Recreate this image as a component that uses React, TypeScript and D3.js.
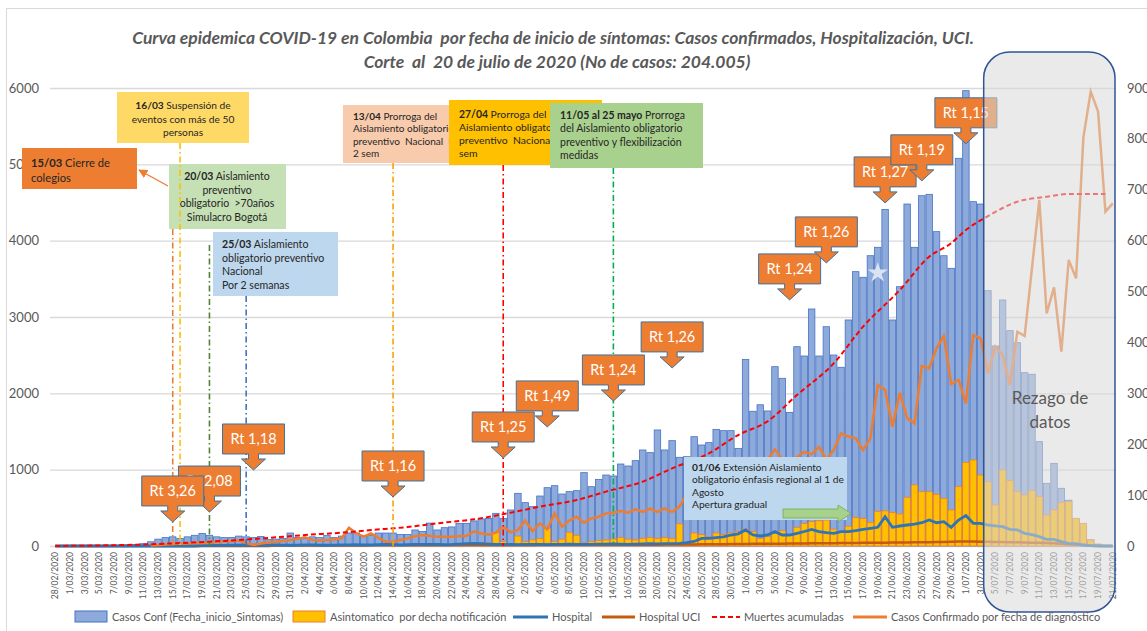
import React, { useEffect, useRef } from 'react'
import * as d3 from 'd3'

const W = 1147
const H = 631
const FONT = 'Lato, "Liberation Sans", sans-serif'

// categories: one bar per day, 28/02/2020 .. 21/07/2020
const fmtDay = d3.timeFormat('%-d/%m/%Y')
const days = d3.timeDay.range(new Date(2020, 1, 28), new Date(2020, 6, 22)).map(fmtDay)

// Casos Conf (Fecha_inicio_Sintomas) - left axis
const casos = [
  0, 0, 0, 0, 1, 2, 3, 5, 8, 10,
  15, 20, 30, 55, 90, 110, 120, 100, 120, 140,
  165, 140, 120, 110, 110, 130, 120, 110, 125, 85,
  90, 100, 170, 110, 100, 120, 110, 140, 110, 130,
  170, 170, 130, 140, 170, 170, 170, 150, 150, 210,
  190, 300, 210, 240, 250, 297, 297, 328, 354, 362,
  428, 362, 472, 690, 568, 515, 655, 764, 790, 681,
  712, 725, 961, 777, 873, 930, 917, 1074, 1048, 1118,
  1258, 1223, 1520, 1258, 1380, 1162, 1170, 1432, 1323, 1354,
  1528, 1511, 1511, 1279, 2445, 1765, 1850, 1769, 2349, 2197,
  1751, 2611, 2489, 3105, 2489, 2873, 2502, 2341, 2961, 3594,
  3520, 3803, 3913, 4410, 2961, 3397, 4480, 3913, 4589, 4607,
  4118, 3803, 3638, 5079, 5965, 4511, 4480, 3345, 2620, 3223,
  2821, 2664, 2271, 2250, 1367, 821, 1083, 756, 600, 350,
  250, 80, 20, 5, 0,
]

// Asintomatico por fecha notificación - left axis
const asintomatico = [
  0, 0, 0, 0, 0, 0, 0, 0, 0, 0,
  0, 0, 0, 0, 0, 0, 0, 0, 0, 0,
  0, 0, 0, 0, 0, 0, 0, 0, 0, 0,
  0, 0, 0, 0, 0, 0, 0, 0, 0, 0,
  0, 0, 0, 0, 0, 0, 0, 0, 0, 0,
  0, 0, 0, 0, 5, 10, 10, 30, 40, 40,
  175, 60, 30, 130, 60, 80, 100, 230, 60, 90,
  180, 140, 40, 60, 70, 80, 90, 110, 90, 80,
  100, 110, 100, 110, 100, 290, 40, 170, 150, 120,
  170, 150, 170, 190, 220, 190, 100, 122, 166, 200,
  144, 245, 297, 319, 330, 340, 220, 190, 260, 371,
  360, 310, 454, 460, 440, 420, 638, 800, 712, 712,
  677, 625, 472, 777, 1096, 1127, 930, 841, 537, 996,
  856, 712, 668, 725, 646, 406, 472, 568, 581, 363,
  297, 79, 26, 0, 0,
]

// Hospital - left axis
const hospital = [
  0, 0, 0, 0, 0, 0, 0, 0, 0, 0,
  0, 0, 0, 0, 0, 0, 0, 0, 0, 0,
  5, 5, 8, 8, 10, 10, 12, 10, 10, 12,
  15, 12, 10, 12, 15, 15, 12, 10, 12, 15,
  15, 18, 15, 15, 18, 20, 18, 15, 18, 20,
  20, 22, 20, 18, 20, 25, 30, 35, 30, 25,
  22, 20, 20, 18, 20, 22, 20, 18, 20, 22,
  25, 22, 20, 22, 25, 25, 28, 25, 22, 25,
  28, 30, 28, 30, 32, 35, 44, 60, 100, 100,
  110, 120, 144, 160, 210, 144, 131, 144, 188, 144,
  144, 166, 190, 218, 188, 175, 166, 188, 188, 200,
  218, 232, 245, 384, 245, 262, 275, 288, 305, 340,
  305, 318, 245, 340, 400, 297, 297, 275, 265, 253,
  218, 210, 166, 150, 122, 87, 87, 57, 35, 30,
  13, 5, 0, 0, 0,
]

// Hospital UCI - left axis
const uci = [
  0, 0, 0, 0, 0, 0, 0, 0, 0, 0,
  0, 0, 0, 0, 0, 0, 0, 0, 0, 0,
  0, 0, 0, 0, 0, 0, 0, 0, 0, 0,
  5, 5, 5, 6, 6, 6, 7, 7, 7, 8,
  8, 8, 8, 9, 9, 9, 10, 10, 10, 10,
  10, 11, 11, 11, 12, 12, 12, 12, 13, 13,
  13, 13, 14, 14, 14, 14, 15, 15, 15, 15,
  15, 16, 16, 16, 16, 16, 17, 17, 17, 18,
  18, 18, 18, 19, 19, 20, 20, 21, 22, 22,
  23, 24, 25, 26, 27, 28, 28, 29, 30, 31,
  32, 33, 34, 35, 35, 36, 37, 38, 39, 40,
  41, 42, 43, 44, 45, 46, 47, 48, 49, 50,
  52, 54, 56, 58, 60, 58, 56, 55, 54, 52,
  50, 48, 46, 44, 42, 40, 36, 30, 24, 18,
  12, 6, 2, 0, 0,
]

// Casos Confirmado por fecha de diagnóstico - right axis
const diagnostico = [
  null, null, null, null, null, null, null, null, null, null,
  null, null, null, 10, 20, 30, 39, 45, 50, 55,
  60, 65, 80, 90, 100, 105, 60, 20, 50, 70,
  85, 100, 118, 140, 170, 118, 110, 118, 130, 151,
  360, 250, 183, 249, 160, 85, 85, 118, 150, 190,
  216, 200, 183, 183, 183, 196, 196, 285, 250, 220,
  262, 380, 268, 314, 498, 290, 445, 327, 641, 380,
  498, 576, 458, 543, 576, 641, 655, 688, 655, 720,
  668, 734, 668, 741, 668, 774, 1016, 1050, 1150, 1200,
  1100, 1300, 1350, 1250, 1400, 1500, 1450, 1700, 1900, 1700,
  1600, 1750, 1850, 1800, 1950, 1700, 1886, 2214, 2150, 2116,
  1886, 2116, 3164, 3065, 2345, 3013, 2508, 2410, 3537, 3491,
  3884, 4127, 3183, 3262, 2803, 4146, 4081, 3393, 3917, 3753,
  3164, 4211, 4126, 5463, 6799, 4572, 5083, 3818, 5620, 5260,
  8030, 8928, 8535, 6570, 6733,
]

// Muertes acumuladas - right axis, read at these dates
const muertesDias = [
  '28/02/2020', '6/03/2020', '10/03/2020', '15/03/2020', '20/03/2020', '24/03/2020', '29/03/2020',
  '2/04/2020', '7/04/2020', '11/04/2020', '16/04/2020', '20/04/2020', '25/04/2020', '30/04/2020',
  '4/05/2020', '9/05/2020', '13/05/2020', '18/05/2020', '22/05/2020', '27/05/2020', '31/05/2020',
  '4/06/2020', '8/06/2020', '13/06/2020', '17/06/2020', '22/06/2020', '26/06/2020', '29/06/2020',
  '1/07/2020', '4/07/2020', '8/07/2020', '12/07/2020', '15/07/2020', '20/07/2020',
]
const muertes = [
  0, 13, 26, 52, 85, 118, 170,
  216, 262, 314, 373, 445, 524, 655,
  773, 904, 1068, 1264, 1526, 1820, 2181,
  2450, 2967, 3589, 4310, 5030, 5685, 5950,
  6209, 6480, 6766, 6864, 6917, 6917,
]

const leftTicks = [0, 1000, 2000, 3000, 4000, 5000, 6000]
const rightTicks = [0, 1000, 2000, 3000, 4000, 5000, 6000, 7000, 8000, 9000]

// Rt callouts
const rtLabels = ['Rt 3,26', 'Rt 2,08', 'Rt 1,18', 'Rt 1,16', 'Rt 1,25', 'Rt 1,49', 'Rt 1,24', 'Rt 1,26', 'Rt 1,24', 'Rt 1,26', 'Rt 1,27', 'Rt 1,19', 'Rt 1,15']
const rtDias = ['15/03/2020', '20/03/2020', '26/03/2020', '14/04/2020', '29/04/2020', '5/05/2020', '14/05/2020', '22/05/2020', '7/06/2020', '12/06/2020', '20/06/2020', '25/06/2020', '1/07/2020']
const rtNivel = [315, 445, 996, 642, 1153, 1560, 1900, 2333, 3224, 3709, 4495, 4784, 5269]

// event lines
const eventoDias = ['15/03/2020', '16/03/2020', '20/03/2020', '25/03/2020', '14/04/2020', '29/04/2020', '14/05/2020']

const notas = [
  { bold: '15/03', lines: ['Cierre de', 'colegios'] },
  { bold: '16/03', lines: ['Suspensión de', 'eventos con más de 50', 'personas'] },
  { bold: '20/03', lines: ['Aislamiento', 'preventivo', 'obligatorio  >70años', 'Simulacro Bogotá'] },
  { bold: '25/03', lines: ['Aislamiento', 'obligatorio preventivo', 'Nacional', 'Por 2 semanas'] },
  { bold: '13/04', lines: ['Prorroga del', 'Aislamiento obligatorio', 'preventivo  Nacional  P 2', '2 sem'] },
  { bold: '27/04', lines: ['Prorroga del', 'Aislamiento obligatorio', 'preventivo  Nacional  P 2', 'sem'] },
  { bold: '11/05 al 25 mayo', lines: ['Prorroga', 'del Aislamiento obligatorio', 'preventivo y flexibilización', 'medidas'] },
  { bold: '01/06', lines: ['Extensión Aislamiento', 'obligatorio énfasis regional al 1 de', 'Agosto', 'Apertura gradual'] },
]

const leyenda = [
  'Casos Conf (Fecha_inicio_Sintomas)',
  'Asintomatico  por decha notificación',
  'Hospital',
  'Hospital UCI',
  'Muertes acumuladas',
  'Casos Confirmado por fecha de diagnóstico',
]

export default function App() {
  const ref = useRef<SVGSVGElement>(null)

  useEffect(() => {
    const svg = d3.select(ref.current)
    svg.selectAll('*').remove()
    svg.style('font-family', FONT)

    const base = 546
    const x = d3.scaleBand<string>().domain(days).range([52, 1116]).paddingInner(0.12).paddingOuter(0)
    const cx = (d: string) => (x(d) as number) + x.bandwidth() / 2
    const yL = d3.scaleLinear().domain([0, 6000]).range([base, 88])
    const yR = d3.scaleLinear().domain([0, 9000]).range([base, 88])

    svg.append('rect').attr('width', W).attr('height', H).attr('fill', '#fff')
    svg.append('rect').attr('x', 6.5).attr('y', 8.5).attr('width', 1160).attr('height', 650)
      .attr('fill', 'none').attr('stroke', '#d9d9d9')

    // title
    const title = svg.append('g').attr('fill', '#595959').attr('font-weight', 'bold')
      .attr('font-style', 'italic').attr('font-size', 17.5).attr('text-anchor', 'middle')
    title.append('text').attr('x', 553).attr('y', 44).attr('xml:space', 'preserve')
      .text('Curva epidemica COVID-19 en Colombia  por fecha de inicio de síntomas: Casos confirmados, Hospitalización, UCI.')
    title.append('text').attr('x', 557).attr('y', 68).attr('xml:space', 'preserve')
      .text('Corte  al  20 de julio de 2020 (No de casos: 204.005)')

    // grid + axes
    svg.append('g').selectAll('line').data(leftTicks).join('line')
      .attr('x1', 50).attr('x2', 1116).attr('y1', d => yL(d) + 0.5).attr('y2', d => yL(d) + 0.5)
      .attr('stroke', '#d9d9d9').attr('stroke-width', 1.3)
    svg.append('g').attr('fill', '#595959').attr('font-size', 13).attr('text-anchor', 'end')
      .selectAll('text').data(leftTicks).join('text')
      .attr('x', 39).attr('y', d => yL(d)).attr('dy', '0.35em').text(d => d)
    svg.append('g').attr('fill', '#595959').attr('font-size', 13)
      .selectAll('text').data(rightTicks).join('text')
      .attr('x', 1127).attr('y', d => yR(d)).attr('dy', '0.35em').text(d => d)

    svg.append('g').attr('fill', '#595959').attr('font-size', 8.5).attr('text-anchor', 'end')
      .selectAll('text').data(days.filter((_, i) => i % 2 === 0)).join('text')
      .attr('transform', d => `translate(${cx(d) + 3},552) rotate(-90)`).text(d => d)

    // bars
    svg.append('g').selectAll('rect').data(days).join('rect')
      .attr('x', d => x(d) as number).attr('width', x.bandwidth())
      .attr('y', (d, i) => yL(casos[i])).attr('height', (d, i) => base - yL(casos[i]))
      .attr('fill', '#8eaadb').attr('stroke', '#4472c4').attr('stroke-width', 0.8)
    svg.append('g').selectAll('rect').data(days).join('rect')
      .attr('x', d => x(d) as number).attr('width', x.bandwidth())
      .attr('y', (d, i) => yL(asintomatico[i])).attr('height', (d, i) => base - yL(asintomatico[i]))
      .attr('fill', '#ffc000').attr('stroke', '#ed7d31').attr('stroke-width', 0.8)
      .attr('display', (d, i) => (asintomatico[i] > 0 ? null : 'none'))

    // lines
    const lineL = d3.line<number | null>().defined(v => v != null)
      .x((v, i) => cx(days[i])).y(v => yL(v as number))
    const lineR = d3.line<number | null>().defined(v => v != null)
      .x((v, i) => cx(days[i])).y(v => yR(v as number))
    svg.append('path').attr('d', lineL(uci)).attr('fill', 'none').attr('stroke', '#c55a11').attr('stroke-width', 2.5)
    svg.append('path').attr('d', lineL(hospital)).attr('fill', 'none').attr('stroke', '#2e75b6').attr('stroke-width', 2.8)
    svg.append('path').attr('d', lineR(diagnostico)).attr('fill', 'none').attr('stroke', '#ed7d31').attr('stroke-width', 2.5)
    const deathLine = d3.line<number>().curve(d3.curveMonotoneX)
      .x((v, i) => cx(muertesDias[i])).y(v => yR(v))
    svg.append('path').attr('d', deathLine(muertes)).attr('fill', 'none').attr('stroke', '#ff0000')
      .attr('stroke-width', 2).attr('stroke-dasharray', '5,3')

    // star
    svg.append('path').attr('d', d3.symbol(d3.symbolStar, 130)())
      .attr('transform', `translate(${cx('19/06/2020')},${yL(3580)})`).attr('fill', '#dae3f3')

    // annotation boxes
    const boxes = [
      { x: 22, y: 148, w: 115, h: 41, fill: '#ed7d31', fs: 11.2, lh: 15, tx: 31, ty: 167, anchor: 'start' },
      { x: 117, y: 92, w: 132, h: 51, fill: '#ffd966', fs: 10.2, lh: 13.5, tx: 183, ty: 109, anchor: 'middle' },
      { x: 169, y: 164, w: 117, h: 65, fill: '#c5e0b4', fs: 10.5, lh: 13.7, tx: 227, ty: 180, anchor: 'middle' },
      { x: 213, y: 232, w: 125, h: 64, fill: '#bdd7ee', fs: 10.6, lh: 13.7, tx: 222, ty: 248, anchor: 'start' },
      { x: 343, y: 105, w: 112, h: 58, fill: '#f8cbad', fs: 10, lh: 12.3, tx: 353, ty: 120, anchor: 'start' },
      { x: 449, y: 100, w: 153, h: 65, fill: '#ffc000', fs: 10.4, lh: 13, tx: 459, ty: 118, anchor: 'start' },
      { x: 550, y: 103, w: 153, h: 65, fill: '#a9d18e', fs: 10.5, lh: 13.3, tx: 560, ty: 119, anchor: 'start' },
      { x: 684, y: 457, w: 163, h: 63, fill: '#bdd7ee', fs: 10.2, lh: 12.4, tx: 692, ty: 471, anchor: 'start' },
    ]
    const ng = svg.append('g')
    boxes.forEach((b, k) => {
      const n = notas[k]
      ng.append('rect').attr('x', b.x).attr('y', b.y).attr('width', b.w).attr('height', b.h).attr('fill', b.fill)
      n.lines.forEach((ln, i) => {
        const t = ng.append('text').attr('x', b.tx).attr('y', b.ty + i * b.lh).attr('xml:space', 'preserve')
          .attr('font-size', b.fs).attr('fill', '#262626').attr('text-anchor', b.anchor)
        if (i === 0) {
          t.append('tspan').attr('font-weight', 'bold').text(n.bold)
          t.append('tspan').text(' ' + ln)
        } else t.text(ln)
      })
    })
    // arrow to the 15/03 box
    svg.append('defs').append('marker').attr('id', 'ah').attr('viewBox', '0 0 10 10')
      .attr('refX', 9).attr('refY', 5).attr('markerWidth', 7).attr('markerHeight', 7).attr('orient', 'auto')
      .append('path').attr('d', 'M0,0L10,5L0,10z').attr('fill', '#ed7d31')
    svg.append('line').attr('x1', 168).attr('y1', 186).attr('x2', 139).attr('y2', 170)
      .attr('stroke', '#ed7d31').attr('stroke-width', 1.3).attr('marker-end', 'url(#ah)')
    // green arrow in the 01/06 box
    svg.append('path').attr('d', 'M783,509H838V505L851,513.5L838,522V518H783Z')
      .attr('fill', '#a9d18e').attr('stroke', '#70ad47').attr('stroke-width', 0.8)

    // event lines
    const evColors = ['#ed7d31', '#ffc000', '#548235', '#4472c4', '#ffa000', '#ff0000', '#00b050']
    const evTop = [229, 143, 245, 296, 163, 165, 168]
    svg.append('g').selectAll('line').data(eventoDias).join('line')
      .attr('x1', d => cx(d)).attr('x2', d => cx(d)).attr('y1', (d, i) => evTop[i]).attr('y2', base)
      .attr('stroke', (d, i) => evColors[i]).attr('stroke-width', 1.6).attr('stroke-dasharray', '6,3,1.5,3')

    // Rt callouts (the 2,08 one sits behind 3,26)
    const rg = svg.append('g')
    const order = [1, 0, 2, 3, 4, 5, 6, 7, 8, 9, 10, 11, 12]
    order.forEach(i => {
      const tx = cx(rtDias[i])
      const ty = yL(rtNivel[i])
      const bx = tx - 31
      const by = ty - 46
      rg.append('path')
        .attr('d', `M${bx},${by}h62v30H${tx + 5}v5h7L${tx},${ty}L${tx - 12},${ty - 11}h7v-5H${bx}Z`)
        .attr('fill', '#ed7d31').attr('stroke', '#41719c').attr('stroke-width', 1)
      rg.append('text').attr('x', tx).attr('y', by + 20).attr('text-anchor', 'middle')
        .attr('fill', '#fff').attr('font-size', 14.5).text(rtLabels[i])
    })

    // data-lag overlay
    const rx0 = (x(days[127]) as number) - 1
    svg.append('rect').attr('x', rx0).attr('y', 52).attr('width', 1115 - rx0).attr('height', 560)
      .attr('rx', 26).attr('fill', '#d9d9d9').attr('fill-opacity', 0.55)
      .attr('stroke', '#2f5597').attr('stroke-width', 1.5)
    svg.append('text').attr('x', 1050).attr('y', 404).attr('text-anchor', 'middle')
      .attr('font-size', 17).attr('fill', '#595959').text('Rezago de')
    svg.append('text').attr('x', 1050).attr('y', 428).attr('text-anchor', 'middle')
      .attr('font-size', 17).attr('fill', '#595959').text('datos')

    // legend
    const lg = svg.append('g').attr('font-size', 11).attr('fill', '#595959')
    const ly = 617
    lg.append('rect').attr('x', 75).attr('y', ly - 6).attr('width', 32).attr('height', 11)
      .attr('fill', '#8eaadb').attr('stroke', '#4472c4')
    lg.append('rect').attr('x', 293).attr('y', ly - 6).attr('width', 32).attr('height', 11)
      .attr('fill', '#ffc000').attr('stroke', '#ed7d31')
    lg.append('line').attr('x1', 513).attr('x2', 548).attr('y1', ly).attr('y2', ly).attr('stroke', '#2e75b6').attr('stroke-width', 3)
    lg.append('line').attr('x1', 602).attr('x2', 635).attr('y1', ly).attr('y2', ly).attr('stroke', '#c55a11').attr('stroke-width', 3)
    lg.append('line').attr('x1', 712).attr('x2', 740).attr('y1', ly).attr('y2', ly).attr('stroke', '#ff0000')
      .attr('stroke-width', 2).attr('stroke-dasharray', '5,3')
    lg.append('line').attr('x1', 853).attr('x2', 887).attr('y1', ly).attr('y2', ly).attr('stroke', '#ed7d31').attr('stroke-width', 3)
    const lx = [112, 330, 552, 639, 744, 891]
    leyenda.forEach((t, i) => {
      lg.append('text').attr('x', lx[i]).attr('y', ly).attr('dy', '0.35em').attr('xml:space', 'preserve').text(t)
    })
  }, [])

  return <svg ref={ref} width={W} height={H} style={{ position: 'absolute', left: 0, top: 0 }} />
}
